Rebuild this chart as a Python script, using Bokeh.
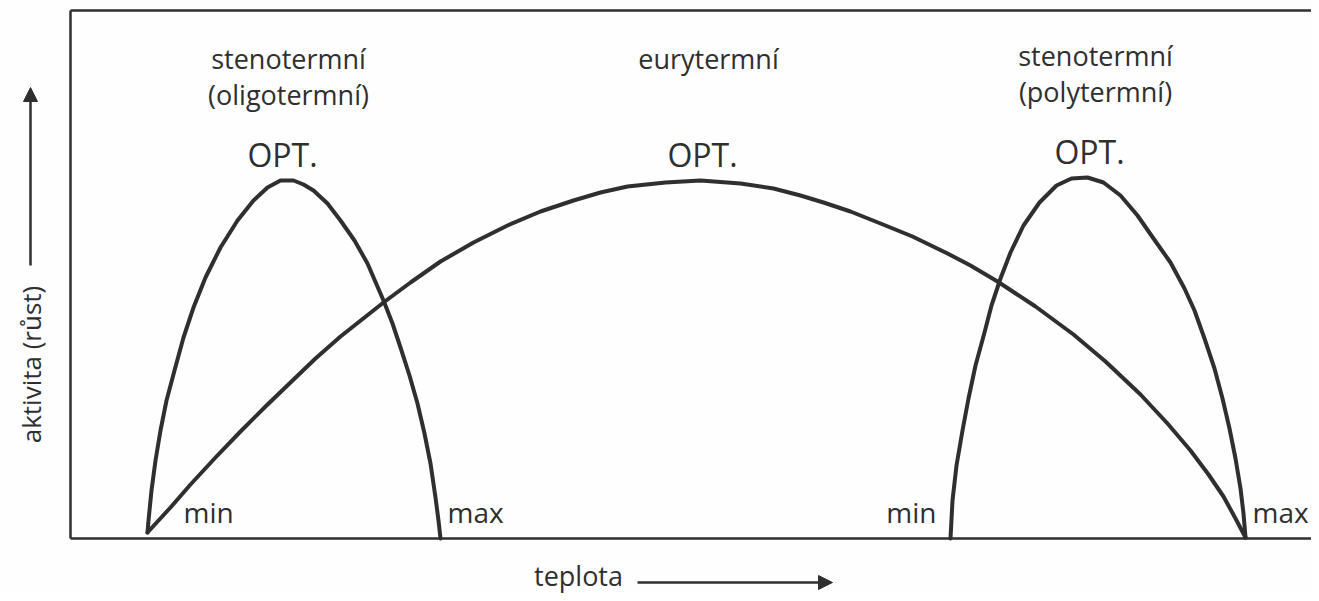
import numpy as np
from bokeh.plotting import figure
from bokeh.models import Range1d, Arrow, NormalHead
from bokeh.core.properties import value
from bokeh.embed import file_html
from bokeh.resources import INLINE

# ---- data (temperature units along x, activity units along y) ----
steno_oligo_t = [77, 78, 81, 85, 90, 96, 104, 113, 123, 135, 150, 167, 183, 197, 210, 223, 233, 243, 257, 270,
                 284, 297, 313, 322, 330, 339, 347, 354, 360, 365, 368, 370]
steno_oligo_a = [6, 18, 48, 78, 108, 138, 168, 201, 231, 261, 291, 318, 338, 351, 358, 358, 354, 348, 335, 318,
                 298, 275, 238, 215, 191, 163, 135, 105, 75, 41, 18, 0]

eury_t = [77, 100, 120, 145, 170, 195, 220, 245, 270, 313, 340, 370, 403, 437, 470, 503, 530, 557, 595, 630,
          670, 703, 730, 753, 780, 810, 842, 877, 900, 927, 965, 1003, 1035, 1070, 1097, 1120, 1138, 1153, 1165, 1175]
eury_a = [6, 31, 54, 81, 107, 132, 156, 180, 202, 236, 256, 277, 296, 313, 327, 338, 346, 352, 356, 358,
          355, 350, 343, 336, 327, 315, 302, 285, 273, 257, 232, 204, 177, 144, 115, 88, 64, 42, 20, 1]

steno_poly_t = [880, 882, 886, 892, 898, 905, 914, 921, 930, 940, 953, 969, 986, 1001, 1017, 1033, 1050, 1067,
                1083, 1100, 1114, 1124, 1134, 1144, 1152, 1159, 1165, 1170, 1173, 1175]
steno_poly_a = [0, 38, 73, 108, 140, 173, 206, 233, 260, 286, 313, 336, 353, 360, 361, 356, 343, 323,
                300, 276, 250, 228, 200, 170, 140, 110, 80, 50, 25, 1]

group_names = ["stenotermní", "eurytermní", "stenotermní"]
group_subnames = ["(oligotermní)", "", "(polytermní)"]
opt_label = "OPT."
limit_labels = ["min", "max"]
x_axis_label = "teplota"
y_axis_label = "aktivita (růst)"

curves = [(steno_oligo_t, steno_oligo_a), (eury_t, eury_a), (steno_poly_t, steno_poly_a)]

INK = "#2f2f2f"
FONT = value("Open Sans")
X0, X1, Y0, Y1 = -70, 1241, -55, 538
TOP = 528
LIFT = 11  # baseline correction for rendered text

p = figure(width=1311, height=593,
           x_range=Range1d(X0, X1), y_range=Range1d(Y0, Y1),
           x_axis_location=None, y_axis_location=None,
           output_backend="svg", toolbar_location=None, min_border=0)
p.grid.visible = False
p.outline_line_color = None
p.background_fill_color = "#fefefe"
p.border_fill_color = "#fefefe"

# chart frame: left, bottom and top lines (open on the right)
p.segment(x0=[0, 0, 0], y0=[0, 0, TOP], x1=[0, X1, X1], y1=[TOP, 0, TOP],
          line_color=INK, line_width=2.5)

for t, a in curves:
    p.line(t, a, line_width=4, line_color=INK, line_join="round", line_cap="round")

# labels derived from curve peaks
for (t, a), name, sub in zip(curves, group_names, group_subnames):
    i = int(np.argmax(a))
    px, py = t[i], a[i]
    p.text(x=[px + 2], y=[py + 15 + LIFT], text=[opt_label], text_font=FONT, text_font_size="32px",
           text_align="center", text_baseline="alphabetic", text_color=INK)
    p.text(x=[px + 8], y=[py + 111 + LIFT], text=[name], text_font=FONT, text_font_size="27px",
           text_align="center", text_baseline="alphabetic", text_color=INK)
    if sub:
        p.text(x=[px + 8], y=[py + 75 + LIFT], text=[sub], text_font=FONT, text_font_size="27px",
               text_align="center", text_baseline="alphabetic", text_color=INK)

# min / max labels at curve ends
lab = dict(text_font=FONT, text_font_size="28px", text_baseline="alphabetic", text_color=INK)
p.text(x=[steno_oligo_t[0] + 36], y=[16 + LIFT], text=[limit_labels[0]], text_align="left", **lab)
p.text(x=[steno_oligo_t[-1] + 7], y=[16 + LIFT], text=[limit_labels[1]], text_align="left", **lab)
p.text(x=[steno_poly_t[0] - 14], y=[16 + LIFT], text=[limit_labels[0]], text_align="right", **lab)
p.text(x=[steno_poly_t[-1] + 7], y=[16 + LIFT], text=[limit_labels[1]], text_align="left", **lab)

# axis titles with arrows
p.text(x=[-40], y=[174], text=[y_axis_label], angle=np.pi / 2, text_font=FONT, text_font_size="26px",
       text_align="center", text_baseline="middle", text_color=INK)
p.add_layout(Arrow(end=NormalHead(size=14, fill_color=INK, line_color=INK),
                   x_start=-40, y_start=273, x_end=-40, y_end=451, line_color=INK, line_width=2.5))

p.text(x=[508], y=[-48 + LIFT], text=[x_axis_label], text_font=FONT, text_font_size="27px",
       text_align="center", text_baseline="alphabetic", text_color=INK)
p.add_layout(Arrow(end=NormalHead(size=14, fill_color=INK, line_color=INK),
                   x_start=567, y_start=-44, x_end=762, y_end=-44, line_color=INK, line_width=2.5))

open("out.html", "w").write(file_html(p, INLINE))
